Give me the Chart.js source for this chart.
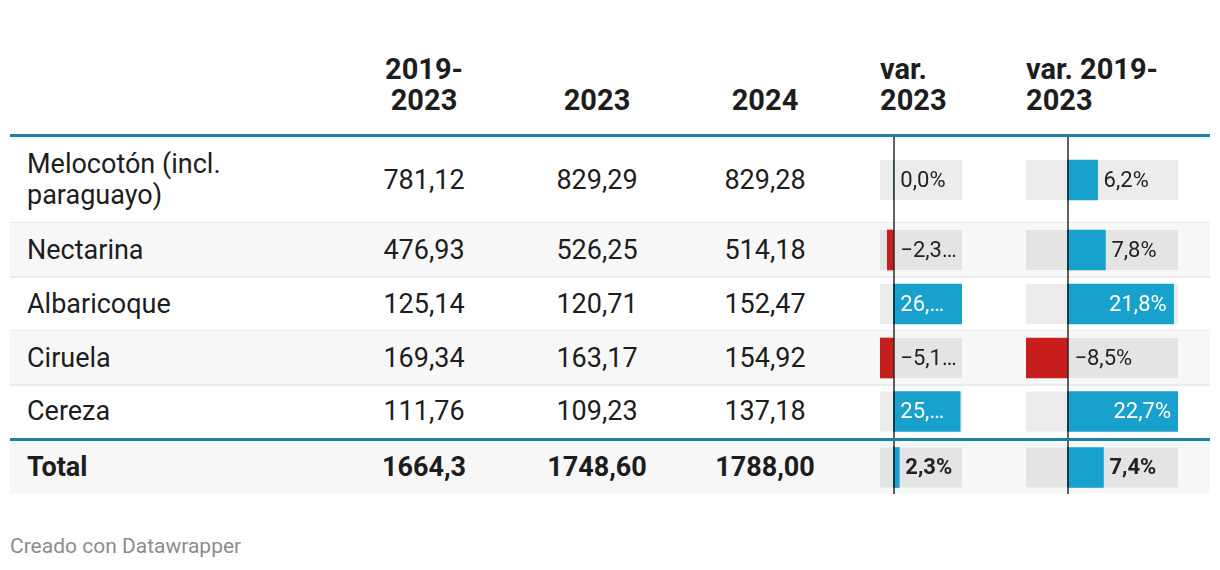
<!DOCTYPE html>
<html>
<head>
<meta charset="utf-8">
<script src="https://cdn.jsdelivr.net/npm/chart.js@4"></script>
<style>
  body { margin: 0; background: #fff; font-family: Roboto, sans-serif; color: #1d1d1d; }
  #wrap { position: relative; width: 1220px; height: 570px; overflow: hidden; }
  .abs { position: absolute; }
  .head { font-weight: 700; font-size: 29px; line-height: 31px; white-space: nowrap; }
  .row { left: 10px; width: 1200px; }
  .shade { background: #f7f7f7; }
  .txt { font-size: 27px; line-height: 31px; display: flex; align-items: center; white-space: nowrap; }
  .num { justify-content: center; }
  .bold { font-weight: 700; }
  .sep { left: 10px; width: 1200px; height: 2px; background: #ebebeb; }
  .teal { left: 10px; width: 1200px; height: 3px; background: #1d81a2; z-index: 5; }
  .cell { z-index: 3; }
</style>
</head>
<body>
<div id="wrap"></div>
<script>
const categories = ['Melocotón (incl. paraguayo)', 'Nectarina', 'Albaricoque', 'Ciruela', 'Cereza', 'Total'];
const avg2019_2023 = [781.12, 476.93, 125.14, 169.34, 111.76, 1664.3];
const prod2023 = [829.29, 526.25, 120.71, 163.17, 109.23, 1748.60];
const prod2024 = [829.28, 514.18, 152.47, 154.92, 137.18, 1788.00];
const var2023 = [0.0, -2.3, 26.3, -5.1, 25.6, 2.3];
const var2023Labels = ['0,0%', '−2,3…', '26,…', '−5,1…', '25,…', '2,3%'];
const var2019_2023 = [6.2, 7.8, 21.8, -8.5, 22.7, 7.4];
const var2019_2023Labels = ['6,2%', '7,8%', '21,8%', '−8,5%', '22,7%', '7,4%'];
const headers = [['2019-', '2023'], ['2023'], ['2024'], ['var.', '2023'], ['var. 2019-', '2023']];

// layout
const rowTops = [137, 223, 277, 331, 385, 441];
const rowHeights = [86, 54, 54, 54, 53, 53];
const numCenters = [424, 597, 765];
const barCols = [
  { left: 880, width: 82, values: var2023, labels: var2023Labels, insideAlign: 'left' },
  { left: 1026, width: 152, values: var2019_2023, labels: var2019_2023Labels, insideAlign: 'right' }
];

// grey track, zero line and value label for each bar cell
const cellPlugin = {
  id: 'cell',
  beforeDatasetsDraw(chart) {
    const { ctx, chartArea } = chart;
    const bar = chart.getDatasetMeta(0).data[0];
    ctx.save();
    ctx.fillStyle = 'rgba(0,0,0,0.075)';
    ctx.fillRect(chartArea.left, bar.y - bar.height / 2, chartArea.right - chartArea.left, bar.height);
    ctx.restore();
  },
  afterDatasetsDraw(chart, args, opts) {
    const { ctx } = chart;
    const x0 = chart.scales.x.getPixelForValue(0);
    const bar = chart.getDatasetMeta(0).data[0];
    const v = chart.data.datasets[0].data[0];
    ctx.save();
    ctx.fillStyle = 'rgba(0,0,0,0.62)';
    ctx.fillRect(Math.round(x0), 0, 2, chart.height);
    ctx.font = (opts.bold ? '700 ' : '400 ') + '22px Roboto';
    ctx.textBaseline = 'middle';
    const w = ctx.measureText(opts.text).width;
    const xEnd = bar.x;
    let x, align = 'left', color = '#222';
    if (v > 0 && xEnd - x0 >= w + 12) {
      color = '#fff';
      if (opts.insideAlign === 'left') x = x0 + 7;
      else { x = xEnd - 7; align = 'right'; }
    } else if (v > 0) {
      x = xEnd + 6;
    } else {
      x = x0 + 7;
    }
    ctx.fillStyle = color;
    ctx.textAlign = align;
    ctx.fillText(opts.text, x, bar.y + 1);
    ctx.restore();
  }
};

function drawCell(canvas, col, r, isTotal) {
  new Chart(canvas, {
    type: 'bar',
    data: {
      labels: [categories[r]],
      datasets: [{
        data: [col.values[r]],
        backgroundColor: col.values[r] < 0 ? '#c71e1d' : '#18a1cd',
        barThickness: 40,
        borderWidth: 0
      }]
    },
    options: {
      indexAxis: 'y',
      responsive: false,
      animation: false,
      devicePixelRatio: 1,
      events: [],
      layout: { padding: 0 },
      scales: {
        x: { display: false, min: Math.min(...col.values), max: Math.max(...col.values) },
        y: { display: false }
      },
      plugins: {
        legend: { display: false },
        tooltip: { enabled: false },
        cell: { text: col.labels[r], bold: isTotal, insideAlign: col.insideAlign }
      }
    },
    plugins: [cellPlugin]
  });
}

const wrap = document.getElementById('wrap');
function el(cls, css, html) {
  const d = document.createElement('div');
  d.className = 'abs ' + cls;
  Object.assign(d.style, css);
  if (html !== undefined) d.innerHTML = html;
  wrap.appendChild(d);
  return d;
}

function fmt(v, fixed) {
  const s = fixed ? v.toFixed(2) : String(v);
  return s.replace('.', ',');
}

// header
const headLefts = [numCenters[0] - 80, numCenters[1] - 80, numCenters[2] - 80, barCols[0].left, barCols[1].left];
headers.forEach((lines, i) => {
  const center = i < 3;
  el('head', { left: headLefts[i] + 'px', width: (center ? 160 : 190) + 'px', bottom: (570 - 116) + 'px',
    textAlign: center ? 'center' : 'left' }, lines.join('<br>'));
});
el('teal', { top: '134px' });

categories.forEach((cat, r) => {
  const top = rowTops[r], h = rowHeights[r];
  const isTotal = r === categories.length - 1;
  el('row' + (r % 2 === 1 ? ' shade' : ''), { top: top + 'px', height: h + 'px' });
  if (r < 4) el('sep', { top: (top + h - 1) + 'px' });
  const b = isTotal ? ' bold' : '';
  el('txt' + b, { left: '27px', top: top + 'px', height: h + 'px', width: '250px', whiteSpace: 'normal' }, cat);
  [avg2019_2023, prod2023, prod2024].forEach((arr, c) => {
    el('txt num' + b, { left: (numCenters[c] - 100) + 'px', width: '200px', top: top + 'px', height: h + 'px' },
      fmt(arr[r], c !== 0));
  });
  barCols.forEach(col => {
    const d = el('cell', { left: col.left + 'px', top: top + 'px', width: col.width + 'px', height: h + 'px' });
    const cv = document.createElement('canvas');
    cv.width = col.width; cv.height = h;
    d.appendChild(cv);
    drawCell(cv, col, r, isTotal);
  });
});
el('teal', { top: '438px' });
el('', { left: '10px', top: '534px', fontSize: '21px', color: '#8c8c8c' }, 'Creado con Datawrapper');
</script>
</body>
</html>
